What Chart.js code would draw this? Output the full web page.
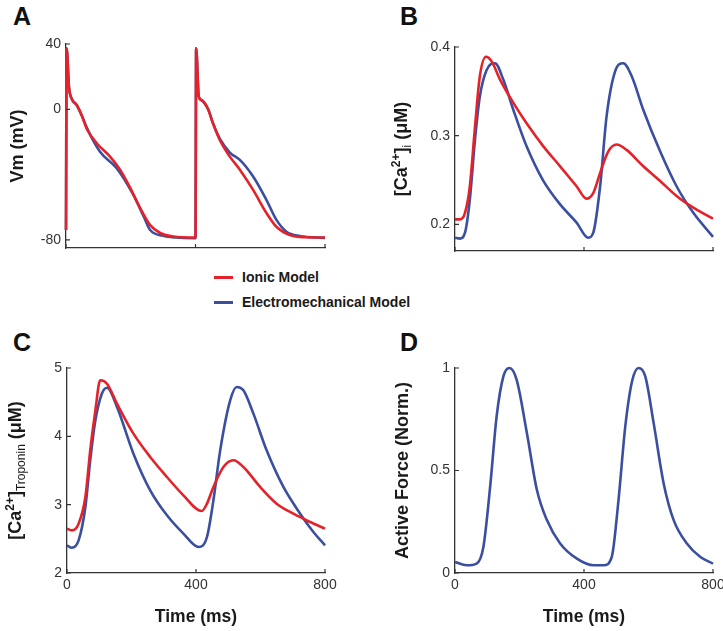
<!DOCTYPE html>
<html>
<head>
<meta charset="utf-8">
<script src="https://cdn.jsdelivr.net/npm/chart.js@4/dist/chart.umd.min.js"></script>
<style>
  html, body { margin: 0; padding: 0; background: #fff; overflow: hidden; }
  body { width: 723px; height: 631px; position: relative; font-family: "Liberation Sans", Arial, sans-serif; }
  .panel { position: absolute; }
  .letter { position: absolute; font-weight: bold; font-size: 25px; line-height: 25px; color: #111; }
  .leg-line { position: absolute; width: 19px; height: 3px; }
  .leg-text { position: absolute; font-weight: bold; font-size: 14px; line-height: 16px; color: #1a1a1a; white-space: nowrap; }
</style>
</head>
<body>
<div class="letter" style="left:13px; top:4px;">A</div>
<div class="letter" style="left:400px; top:4px;">B</div>
<div class="letter" style="left:13px; top:330px;">C</div>
<div class="letter" style="left:400px; top:330px;">D</div>

<div class="leg-line" style="left:214px; top:276px; background:#e52229;"></div>
<div class="leg-text" style="left:242px; top:269px;">Ionic Model</div>
<div class="leg-line" style="left:214px; top:301px; background:#3b4fa0;"></div>
<div class="leg-text" style="left:242px; top:294px;">Electromechanical Model</div>

<div class="panel" style="left:0px; top:30px; width:345px; height:238px;"><canvas id="chartA"></canvas></div>
<div class="panel" style="left:370px; top:30px; width:370px; height:241px;"><canvas id="chartB"></canvas></div>
<div class="panel" style="left:0px; top:350px; width:345px; height:278px;"><canvas id="chartC"></canvas></div>
<div class="panel" style="left:370px; top:350px; width:370px; height:278px;"><canvas id="chartD"></canvas></div>

<script>
const RED = '#e52229';
const BLUE = '#3b4fa0';

// shared x ticks (ms)
const timeTicks = [0, 400, 800];

// A: membrane potential (mV)
const vmTicks = [-80, 0, 40];
const vmIonicT = [0, 2, 9, 17, 33, 48, 66, 95, 136, 167, 198, 229, 260, 291, 332, 398, 400, 402, 410, 418, 439, 454, 475, 506, 537, 578, 619, 650, 691, 743, 800];
const vmIonic  = [-74, 37.4, 13.9, 6.7, 2.6, -3.5, -12.7, -20.8, -29, -37, -48, -60.5, -71, -75.8, -78, -78.6, -78.6, 37.4, 7.8, 5.7, 0, -8.6, -18.8, -29, -37, -49.4, -63.5, -72, -77, -78.4, -78.6];
const vmEmT = [0, 2, 9, 17, 33, 48, 66, 105, 156, 208, 240, 260, 300, 340, 398, 400, 402, 410, 418, 439, 454, 475, 506, 537, 578, 619, 650, 681, 722, 800];
const vmEm  = [-74, 37.4, 13.9, 6.7, 2.6, -3.5, -12, -26, -36, -52.5, -65.7, -74, -77.5, -78.6, -79, -79, 37.4, 7.8, 5.7, 0, -8.6, -18, -26.5, -31, -41.2, -55.5, -67.8, -75, -77.6, -78.8];

// B: cytosolic calcium (uM)
const caiTicks = [0.2, 0.3, 0.4];
const caiIonicT = [0, 15, 31, 46, 62, 77, 96, 114, 140, 181, 222, 274, 326, 377, 408, 429, 450, 475, 501, 532, 584, 636, 687, 739, 800];
const caiIonic  = [0.2056, 0.2056, 0.213, 0.243, 0.310, 0.367, 0.389, 0.3835, 0.363, 0.337, 0.314, 0.288, 0.2655, 0.243, 0.229, 0.2356, 0.258, 0.282, 0.290, 0.284, 0.2655, 0.249, 0.232, 0.2188, 0.2064];
const caiEmT = [0, 15, 31, 46, 62, 77, 98, 124, 150, 181, 222, 274, 326, 377, 413, 429, 450, 470, 496, 522, 548, 584, 636, 687, 739, 800];
const caiEm  = [0.185, 0.184, 0.1907, 0.228, 0.2955, 0.344, 0.374, 0.3817, 0.363, 0.329, 0.288, 0.249, 0.2225, 0.202, 0.185, 0.191, 0.243, 0.3217, 0.372, 0.3817, 0.367, 0.329, 0.2824, 0.243, 0.213, 0.186];

// C: calcium bound to troponin (uM)
const trpTicks = [2, 3, 4, 5];
const trpIonicT = [0, 15, 36, 57, 72, 88, 103, 124, 155, 206, 258, 310, 361, 418, 434, 454, 485, 516, 547, 599, 650, 702, 754, 800];
const trpIonic  = [2.649, 2.624, 2.722, 3.112, 3.795, 4.38, 4.82, 4.77, 4.478, 4.039, 3.698, 3.405, 3.137, 2.907, 3.015, 3.259, 3.551, 3.649, 3.551, 3.259, 3.015, 2.868, 2.746, 2.649];
const trpEmT = [0, 15, 36, 57, 72, 88, 108, 124, 155, 206, 258, 310, 361, 408, 434, 454, 475, 506, 526, 547, 578, 619, 671, 723, 764, 800];
const trpEm  = [2.405, 2.37, 2.478, 2.966, 3.649, 4.234, 4.624, 4.712, 4.43, 3.746, 3.21, 2.844, 2.576, 2.38, 2.527, 3.063, 3.795, 4.527, 4.722, 4.673, 4.332, 3.795, 3.259, 2.868, 2.6, 2.405];

// D: normalised active force
const forceTicks = [0, 0.5, 1];
const forceT = [0, 36, 67, 88, 109, 129, 150, 169, 191, 223, 254, 285, 326, 378, 430, 461, 486, 507, 528, 549, 569, 590, 616, 647, 678, 719, 761, 800];
const force  = [0.054, 0.0375, 0.046, 0.127, 0.421, 0.763, 0.959, 1.0, 0.943, 0.682, 0.405, 0.258, 0.144, 0.07, 0.0375, 0.0375, 0.078, 0.356, 0.715, 0.935, 1.0, 0.959, 0.731, 0.437, 0.258, 0.144, 0.078, 0.046];

function pts(xs, ys) {
  return xs.map((x, i) => ({ x: x, y: ys[i] }));
}

function line(label, xs, ys, color) {
  return {
    label: label,
    data: pts(xs, ys),
    borderColor: color,
    backgroundColor: color,
    borderWidth: 2.6,
    pointRadius: 0,
    cubicInterpolationMode: 'monotone',
    clip: false
  };
}

// inward MATLAB-style tick marks
const inTicks = {
  id: 'inTicks',
  afterDraw(chart) {
    const { ctx, chartArea, scales } = chart;
    ctx.save();
    ctx.strokeStyle = '#333';
    ctx.lineWidth = 1.2;
    ctx.beginPath();
    scales.y.ticks.forEach(t => {
      const y = scales.y.getPixelForValue(t.value);
      ctx.moveTo(chartArea.left, y);
      ctx.lineTo(chartArea.left + 4, y);
    });
    scales.x.ticks.forEach(t => {
      const x = scales.x.getPixelForValue(t.value);
      ctx.moveTo(x, chartArea.bottom);
      ctx.lineTo(x, chartArea.bottom - 4);
    });
    ctx.stroke();
    ctx.restore();
  }
};

// rotated y label with super/subscripts
const yLabel = {
  id: 'yLabel',
  afterDraw(chart, args, opts) {
    const { ctx, chartArea } = chart;
    const parts = opts.parts || [];
    const fontOf = p => {
      if (p.sup || p.sub) return (p.bold ? 'bold ' : '') + '12px "Liberation Sans", Arial, sans-serif';
      return 'bold 18px "Liberation Sans", Arial, sans-serif';
    };
    ctx.save();
    ctx.translate(chartArea.left - opts.offset, (chartArea.top + chartArea.bottom) / 2);
    ctx.rotate(-Math.PI / 2);
    ctx.fillStyle = '#1a1a1a';
    ctx.textBaseline = 'alphabetic';
    let total = 0;
    const widths = parts.map(p => {
      ctx.font = fontOf(p);
      const w = ctx.measureText(p.t).width;
      total += w;
      return w;
    });
    let x = -total / 2;
    parts.forEach((p, i) => {
      ctx.font = fontOf(p);
      let dy = 6.5;
      if (p.sup) dy = -0.5;
      if (p.sub) dy = 10.5;
      ctx.fillText(p.t, x, dy);
      x += widths[i];
    });
    ctx.restore();
  }
};

function makeChart(id, datasets, cfg) {
  const tickFont = { family: '"Liberation Sans", Arial, sans-serif', size: 14 };
  return new Chart(document.getElementById(id), {
    type: 'line',
    data: { datasets: datasets },
    options: {
      responsive: true,
      maintainAspectRatio: false,
      animation: false,
      events: [],
      layout: { padding: { top: cfg.padTop, right: cfg.padRight, bottom: 0, left: 0 } },
      plugins: {
        legend: { display: false },
        tooltip: { enabled: false },
        yLabel: { parts: cfg.label, offset: cfg.labelOffset }
      },
      scales: {
        x: {
          type: 'linear',
          min: 0,
          max: 800,
          grid: { display: false, drawTicks: false },
          border: { display: true, color: '#333', width: 1.3 },
          afterBuildTicks: s => { s.ticks = timeTicks.map(v => ({ value: v })); },
          afterFit: s => { s.height = cfg.xHeight; },
          ticks: {
            display: cfg.showX,
            color: '#333',
            font: tickFont,
            padding: 4,
            maxRotation: 0,
            callback: v => String(v)
          },
          title: {
            display: cfg.showX,
            text: 'Time (ms)',
            color: '#1a1a1a',
            font: { family: '"Liberation Sans", Arial, sans-serif', size: 17.5, weight: 'bold' },
            padding: { top: 13, bottom: 0 }
          }
        },
        y: {
          min: cfg.yMin,
          max: cfg.yMax,
          grid: { display: false, drawTicks: false },
          border: { display: true, color: '#333', width: 1.3 },
          afterBuildTicks: s => { s.ticks = cfg.yTicks.map(v => ({ value: v })); },
          afterFit: s => { s.width = cfg.yWidth; },
          ticks: {
            color: '#333',
            font: tickFont,
            padding: 5,
            callback: v => String(v)
          }
        }
      }
    },
    plugins: [inTicks, yLabel]
  });
}

makeChart('chartA', [
  line('Ionic Model', vmIonicT, vmIonic, RED),
  line('Electromechanical Model', vmEmT, vmEm, BLUE)
], {
  yMin: -85, yMax: 40, yTicks: vmTicks, yWidth: 66, xHeight: 20, padTop: 14, padRight: 20,
  showX: false, labelOffset: 50,
  label: [{ t: 'Vm (mV)' }]
});

makeChart('chartB', [
  line('Ionic Model', caiIonicT, caiIonic, RED),
  line('Electromechanical Model', caiEmT, caiEm, BLUE)
], {
  yMin: 0.17, yMax: 0.4, yTicks: caiTicks, yWidth: 85, xHeight: 20, padTop: 17, padRight: 27,
  showX: false, labelOffset: 55,
  label: [{ t: '[Ca' }, { t: '2+', sup: true, bold: true }, { t: ']' }, { t: 'i', sub: true }, { t: ' (μM)' }]
});

makeChart('chartC', [
  line('Ionic Model', trpIonicT, trpIonic, RED),
  line('Electromechanical Model', trpEmT, trpEm, BLUE)
], {
  yMin: 2, yMax: 5, yTicks: trpTicks, yWidth: 67, xHeight: 55, padTop: 18, padRight: 20,
  showX: true, labelOffset: 53,
  label: [{ t: '[Ca' }, { t: '2+', sup: true, bold: true }, { t: ']' }, { t: 'Troponin', sub: true }, { t: ' (μM)' }]
});

makeChart('chartD', [
  line('Electromechanical Model', forceT, force, BLUE)
], {
  yMin: 0, yMax: 1, yTicks: forceTicks, yWidth: 85, xHeight: 55, padTop: 18, padRight: 27,
  showX: true, labelOffset: 54,
  label: [{ t: 'Active Force (Norm.)' }]
});
</script>
</body>
</html>
